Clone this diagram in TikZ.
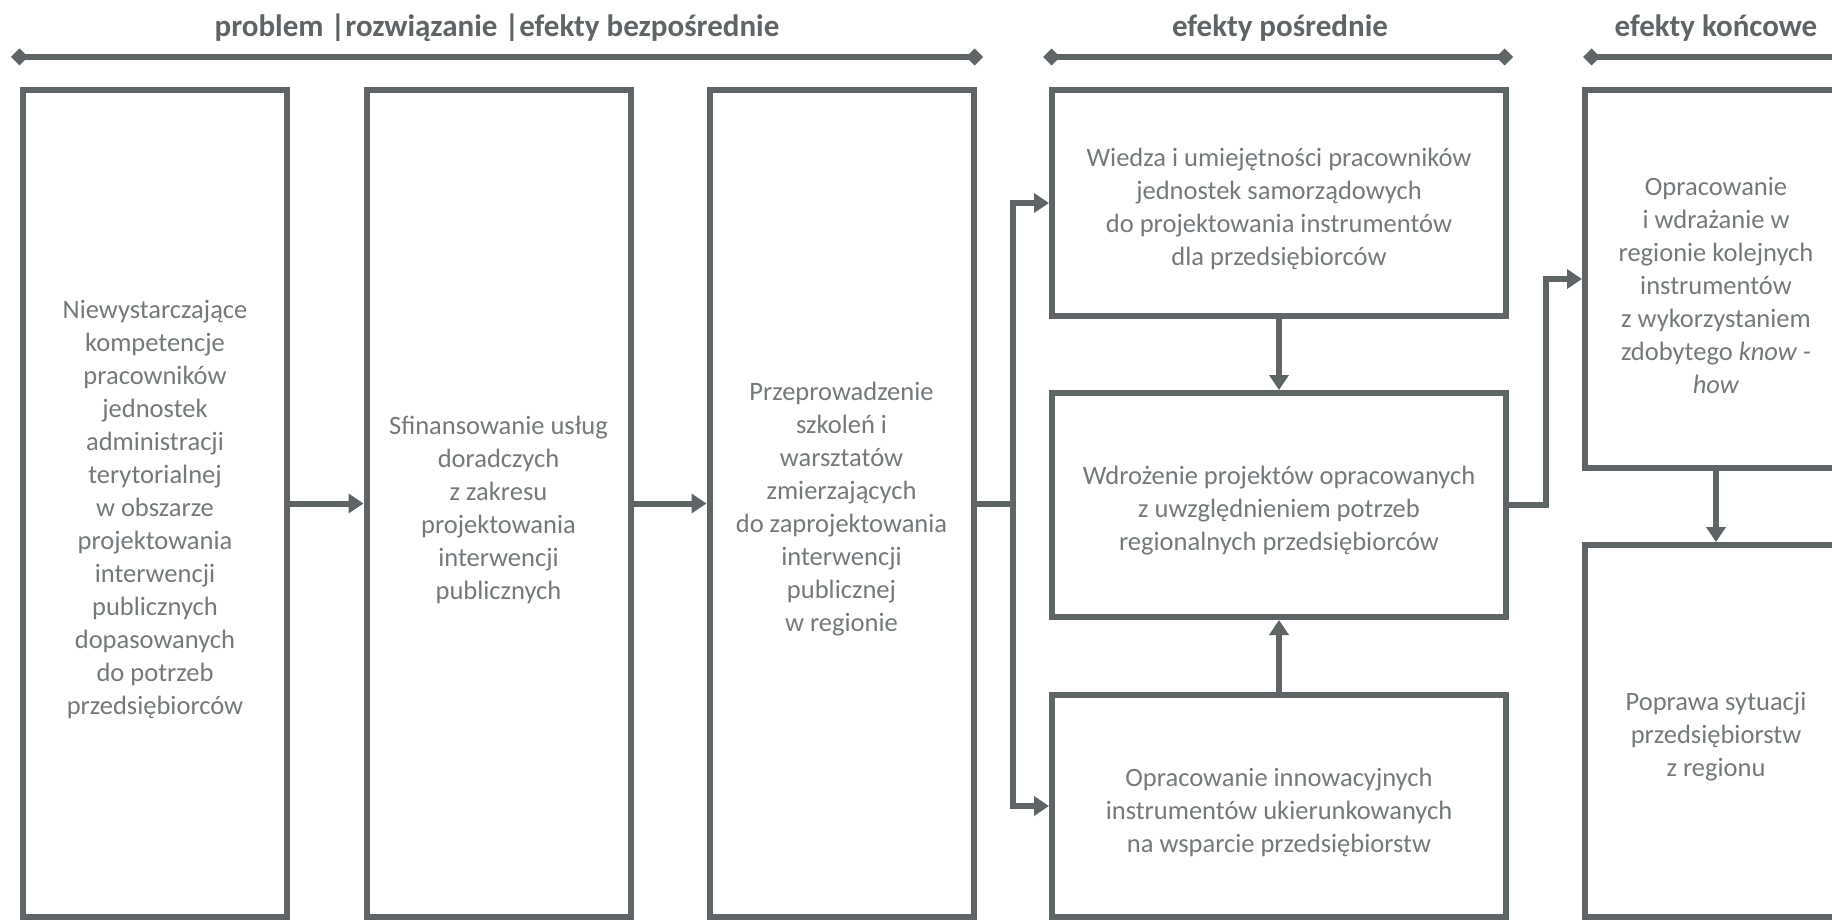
\documentclass[tikz,border=0pt]{standalone}
\usepackage{fontspec}
\setmainfont{Carlito}
\usetikzlibrary{arrows.meta}
\definecolor{linegray}{HTML}{5F6467}
\definecolor{textgray}{HTML}{74797C}

\begin{document}
\begin{tikzpicture}[x=1pt,y=-1pt,
  box/.style={draw=linegray, line width=6pt, rectangle, inner sep=0pt},
  txt/.style={align=center, font=\fontsize{26.5}{33}\selectfont,
    text=textgray, inner sep=0pt, yshift=-6pt},
  conn/.style={draw=linegray, line width=6pt},
  arr/.style={conn, -{Triangle[length=15pt,width=19pt]}},
  bar/.style={draw=linegray, line width=6pt,
    {Diamond[length=17pt,width=17pt]}-{Diamond[length=17pt,width=17pt]}},
  head/.style={font=\fontsize{31}{36}\selectfont\bfseries, text=linegray}]

\clip (0,0) rectangle (1832,920);
\fill[white] (0,0) rectangle (1832,920);

% column headings with their range bars
\node[head] (h1) at (497,28) {problem |rozwiązanie |efekty bezpośrednie};
\node[head] (h2) at (1280,28) {efekty pośrednie};
\node[head] (h3) at (1716,28) {efekty końcowe};
\coordinate (b1l) at (11,57);   \coordinate (b1r) at (983,57);
\coordinate (b2l) at (1043,57); \coordinate (b2r) at (1513,57);
\coordinate (b3l) at (1583,57); \coordinate (b3r) at (1850,57);
\draw[bar] (b1l) -- (b1r);
\draw[bar] (b2l) -- (b2r);
\draw[bar] (b3l) -- (b3r);

% problem, solution, direct effects
\node[box, minimum width=264pt, minimum height=827pt] (p) at (155,503.5) {};
\node[box, minimum width=264pt, minimum height=827pt] (s) at (498.5,503.5) {};
\node[box, minimum width=264pt, minimum height=827pt] (d) at (841.5,503.5) {};
\node[txt] (pt) at (p.center)
  {Niewystarczające\\kompetencje\\pracowników\\jednostek\\administracji\\terytorialnej\\w obszarze\\projektowania\\interwencji\\publicznych\\dopasowanych\\do potrzeb\\przedsiębiorców};
\node[txt] (st) at (s.center)
  {Sfinansowanie usług\\doradczych\\z zakresu\\projektowania\\interwencji\\publicznych};
\node[txt] (dt) at (d.center)
  {Przeprowadzenie\\szkoleń i\\warsztatów\\zmierzających\\do zaprojektowania\\interwencji\\publicznej\\w regionie};

% intermediate effects
\node[box, minimum width=454pt, minimum height=226pt] (i1) at (1279,203) {};
\node[box, minimum width=454pt, minimum height=224pt] (i2) at (1279,505) {};
\node[box, minimum width=454pt, minimum height=222pt] (i3) at (1279,806) {};
\node[txt] (i1t) at (i1.center)
  {Wiedza i umiejętności pracowników\\jednostek samorządowych\\do projektowania instrumentów\\dla przedsiębiorców};
\node[txt] (i2t) at (i2.center)
  {Wdrożenie projektów opracowanych\\z uwzględnieniem potrzeb\\regionalnych przedsiębiorców};
\node[txt] (i3t) at (i3.center)
  {Opracowanie innowacyjnych\\instrumentów ukierunkowanych\\na wsparcie przedsiębiorstw};

% final effects
\node[box, minimum width=262pt, minimum height=378pt] (f1) at (1716,279) {};
\node[box, minimum width=262pt, minimum height=372pt] (f2) at (1716,731) {};
\node[txt] (f1t) at (f1.center)
  {Opracowanie\\i wdrażanie w\\regionie kolejnych\\instrumentów\\z wykorzystaniem\\zdobytego \textit{know -}\\\textit{how}};
\node[txt] (f2t) at (f2.center)
  {Poprawa sytuacji\\przedsiębiorstw\\z regionu};

% connectors
\draw[arr] (p.east) -- (s.west);
\draw[arr] (s.east) -- (d.west);
\coordinate (fork) at (1013,503.5);
\draw[conn] (d.east) -- (fork);
\draw[arr] (fork) |- (i1.west);
\draw[arr] (fork) |- (i3.west);
\draw[arr] (i1.south) -- (i2.north);
\draw[arr] (i3.north) -- (i2.south);
\coordinate (join) at (1546,505);
\draw[arr] (i2.east) -- (join) |- (f1.west);
\draw[arr] (f1.south) -- (f2.north);
\end{tikzpicture}
\end{document}
